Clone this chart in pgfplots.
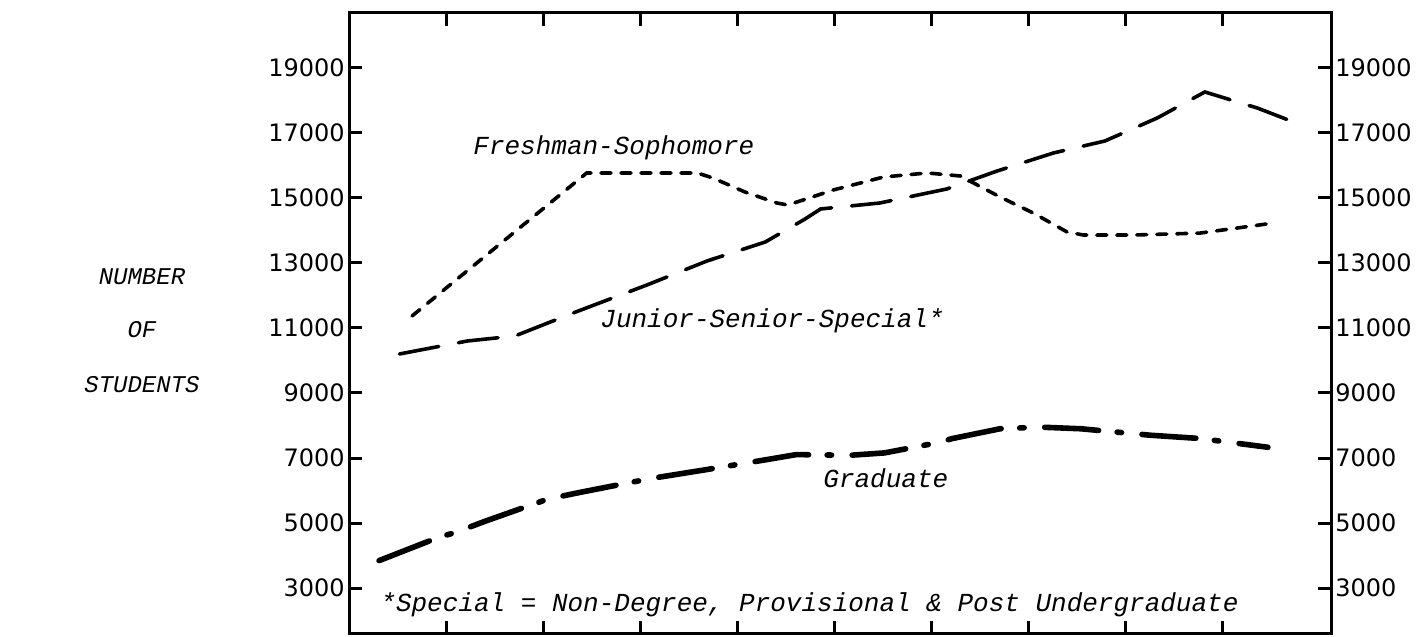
\documentclass[border=0pt]{standalone}
\usepackage{pgfplots}
\pgfplotsset{compat=1.18}
\usepackage{fontspec}
\setmainfont{Liberation Mono}
\newfontfamily\dejavu{DejaVu Sans}
\newcommand\labfont{\fontsize{13}{15}\selectfont\itshape}
\newcommand\sidefont{\fontsize{12}{14}\selectfont\itshape}

\begin{document}
\begin{tikzpicture}
\path[use as bounding box] (0,0) rectangle (710.5pt,318.5pt);
\pgfplotsset{
  myaxis/.style={
    at={(174.5pt,1.5pt)}, anchor=south west,
    scale only axis, width=491pt, height=310.5pt,
    xmin=0, xmax=10.12, ymin=1585, ymax=20692,
    xtick={1,...,9}, xticklabels={},
    ytick={3000,5000,...,19000},
    scaled ticks=false,
    axis line style={line width=1.5pt},
    major tick style={line width=1.5pt, black},
    major tick length=6.5pt,
    tick align=inside,
    yticklabel style={font=\dejavu\fontsize{12}{12}\selectfont, inner sep=2pt},
    /pgf/number format/assume math mode=true,
    /pgf/number format/1000 sep={},
    clip=false,
  }
}
\begin{axis}[myaxis, yticklabel pos=left]
% Freshman-Sophomore
\addplot[black, line width=1.8pt, line cap=round, dash pattern=on 5pt off 5pt] coordinates {
(0.65,11370) (2.45,15770) (3.59,15770) (3.75,15615) (4.08,15185) (4.41,14846) (4.52,14785)
(4.68,14938) (4.99,15246) (5.51,15646) (5.96,15770) (6.30,15677) (6.71,15030) (7.05,14540)
(7.40,13954) (7.57,13860) (8.08,13860) (8.77,13920) (9.53,14230)};
% Junior-Senior-Special
\addplot[black, line width=1.8pt, line cap=round, dash pattern=on 20pt off 10pt] coordinates {
(0.52,10200) (1.22,10600) (1.71,10754) (2.31,11462) (3.07,12323) (3.69,13062) (4.29,13646)
(4.70,14354) (4.86,14662) (5.47,14846) (6.16,15277) (6.68,15831) (7.26,16385) (7.79,16754)
(8.33,17462) (8.82,18262) (9.36,17769) (9.76,17308)};
% Graduate
\addplot[black, line width=2.8pt, line cap=round, dash pattern=on 27pt off 9.3pt on 2.2pt off 10.3pt] coordinates {
(0.31,3843) (0.94,4578) (1.08,4692) (1.41,5062) (2.05,5738) (2.40,5954) (3.11,6369)
(3.66,6631) (4.30,6948) (4.61,7105) (5.16,7083) (5.52,7157) (6.07,7474) (6.22,7600)
(6.71,7900) (7.12,7950) (7.54,7900) (8.26,7700) (8.77,7600) (9.47,7330)};
\end{axis}
\begin{axis}[myaxis, yticklabel pos=right]
\end{axis}
\node[anchor=base west, inner sep=0pt, font=\labfont] at (236.5pt,241pt) {Freshman-Sophomore};
\node[anchor=base west, inner sep=0pt, font=\labfont] at (300pt,154.5pt) {Junior-Senior-Special*};
\node[anchor=base west, inner sep=0pt, font=\labfont] at (411.5pt,74.5pt) {Graduate};
\node[anchor=base west, inner sep=0pt, font=\labfont] at (190pt,12.5pt) {*Special = Non-Degree, Provisional \& Post Undergraduate};
\node[inner sep=0pt, font=\sidefont] at (71pt,180pt) {NUMBER};
\node[inner sep=0pt, font=\sidefont] at (71pt,153.5pt) {OF};
\node[inner sep=0pt, font=\sidefont] at (71pt,126pt) {STUDENTS};
\end{tikzpicture}
\end{document}
